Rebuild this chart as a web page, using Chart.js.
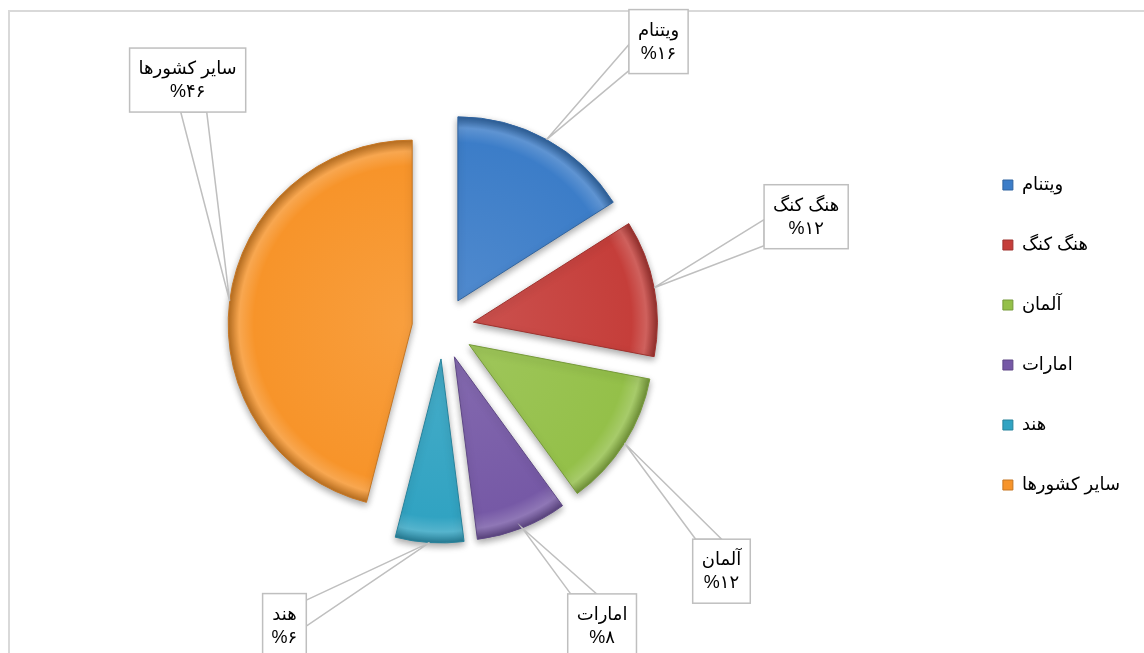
<!DOCTYPE html>
<html lang="fa">
<head>
<meta charset="utf-8">
<script src="https://cdn.jsdelivr.net/npm/chart.js@4.4.1/dist/chart.umd.min.js"></script>
<style>
	html, body { margin: 0; padding: 0; background: #fff; }
	#wrap { position: relative; width: 1144px; height: 653px; overflow: hidden; }
	#frame { position: absolute; left: 8px; top: 10px; width: 1300px; height: 800px; border-top: 2px solid #d9d9d9; border-left: 2px solid #d9d9d9; }
	/* canvas is a bit wider than the page so the pie sits left of centre */
	#chartCanvas { position: absolute; left: -75px; top: 0; }
</style>
</head>
<body>
<div id="wrap">
	<div id="frame"></div>
	<canvas id="chartCanvas" width="1219" height="653"></canvas>
</div>
<script>
const categories = ['ویتنام', 'هنگ کنگ', 'آلمان', 'امارات', 'هند', 'سایر کشورها']
const shares = [16, 12, 12, 8, 6, 46]
const colors = ['#3c7dc8', '#c53e3a', '#94c049', '#7659a6', '#31a3c2', '#f7942a']

// callout box centre, measured from the rim point of its slice
const calloutOffsets = [[112, -98], [152, -71], [97, 128], [80, 98], [-145, 83], [-42, -221]]
const explode = 31
const fontFamily = '"Liberation Sans", "DejaVu Sans", Arial, sans-serif'

const faDigits = n => String(n).replace(/\d/g, d => '۰۱۲۳۴۵۶۷۸۹'[d])

function shade(hex, amt) {
	const n = parseInt(hex.slice(1), 16)
	const t = amt < 0 ? 0 : 255
	const p = Math.abs(amt)
	const mix = c => Math.round(c + (t - c) * p)
	return `rgb(${mix(n >> 16)},${mix((n >> 8) & 255)},${mix(n & 255)})`
}

function drawCallout(ctx, tx, ty, cx, cy, lines) {
	ctx.save()
	ctx.font = `18px ${fontFamily}`
	const w = Math.max(...lines.map(t => ctx.measureText(t).width)) + 18
	const h = 64
	const left = cx - w / 2
	const top = cy - h / 2
	const dx = tx - cx
	const dy = ty - cy
	const half = 13
	let b1, b2
	if (Math.abs(dx) / (w / 2) > Math.abs(dy) / (h / 2)) {
		const ex = dx > 0 ? left + w : left
		let ey = cy + dy * (w / 2) / Math.abs(dx)
		ey = Math.min(Math.max(ey, top + half + 3), top + h - half - 3)
		b1 = [ex, ey - half]
		b2 = [ex, ey + half]
	} else {
		const ey = dy > 0 ? top + h : top
		let ex = cx + dx * (h / 2) / Math.abs(dy)
		ex = Math.min(Math.max(ex, left + half + 3), left + w - half - 3)
		b1 = [ex - half, ey]
		b2 = [ex + half, ey]
	}
	ctx.lineWidth = 1.5
	ctx.strokeStyle = '#bfbfbf'
	ctx.fillStyle = '#fff'
	ctx.beginPath()
	ctx.moveTo(b1[0], b1[1])
	ctx.lineTo(tx, ty)
	ctx.lineTo(b2[0], b2[1])
	ctx.closePath()
	ctx.fill()
	ctx.stroke()
	ctx.fillRect(left, top, w, h)
	ctx.strokeRect(left, top, w, h)
	ctx.fillStyle = '#000'
	ctx.textAlign = 'center'
	ctx.textBaseline = 'middle'
	ctx.fillText(lines[0], cx, cy - 11)
	ctx.fillText(lines[1], cx, cy + 12)
	ctx.restore()
}

const explodePlugin = {
	id: 'explodeCallouts',
	afterDatasetsUpdate(chart) {
		const ctx = chart.ctx
		chart.getDatasetMeta(0).data.forEach((arc, i) => {
			const mid = (arc.startAngle + arc.endAngle) / 2
			arc.x += Math.cos(mid) * explode
			arc.y += Math.sin(mid) * explode
			const g = ctx.createRadialGradient(arc.x, arc.y, 0, arc.x, arc.y, arc.outerRadius)
			g.addColorStop(0, shade(colors[i], 0.1))
			g.addColorStop(0.86, colors[i])
			g.addColorStop(0.94, shade(colors[i], 0.18))
			g.addColorStop(1, shade(colors[i], -0.25))
			arc.options.backgroundColor = g
		})
	},
	beforeDatasetsDraw(chart) {
		const ctx = chart.ctx
		ctx.save()
		ctx.shadowColor = 'rgba(0,0,0,0.35)'
		ctx.shadowBlur = 7
		ctx.shadowOffsetY = 3
	},
	afterDatasetsDraw(chart) {
		const ctx = chart.ctx
		ctx.restore()
		chart.getDatasetMeta(0).data.forEach((arc, i) => {
			const mid = (arc.startAngle + arc.endAngle) / 2
			const tx = arc.x + Math.cos(mid) * arc.outerRadius
			const ty = arc.y + Math.sin(mid) * arc.outerRadius
			const [ox, oy] = calloutOffsets[i]
			drawCallout(ctx, tx, ty, tx + ox, ty + oy, [categories[i], '%' + faDigits(shares[i])])
		})
	}
}

const ctx = document.getElementById('chartCanvas').getContext('2d')
new Chart(ctx, {
	type: 'pie',
	data: {
		labels: categories,
		datasets: [{
			data: shares,
			backgroundColor: colors,
			borderColor: colors.map(c => shade(c, -0.2)),
			borderWidth: 1
		}]
	},
	options: {
		responsive: false,
		animation: false,
		events: [],
		radius: 184,
		layout: {
			padding: { left: 0, right: 14, top: 10, bottom: 7 }
		},
		plugins: {
			legend: {
				position: 'right',
				title: { display: true, text: '', padding: 0, font: { size: 14, lineHeight: 1 } },
				labels: {
					boxWidth: 10,
					boxHeight: 10,
					padding: 42,
					color: '#000',
					font: { size: 18, family: fontFamily }
				}
			},
			tooltip: { enabled: false }
		}
	},
	plugins: [explodePlugin]
})
</script>
</body>
</html>
